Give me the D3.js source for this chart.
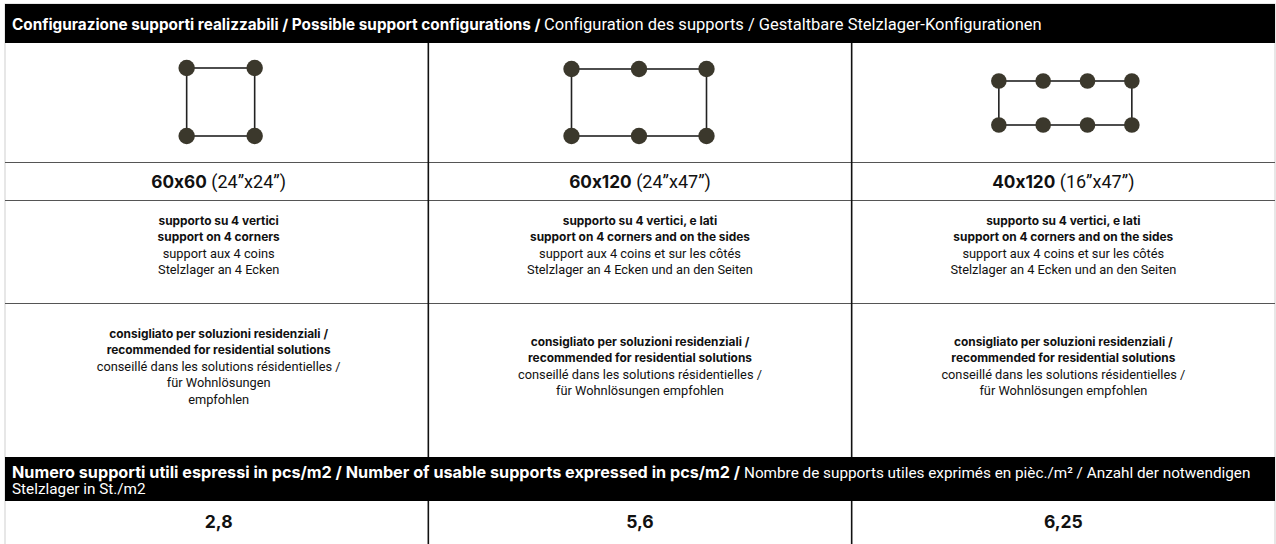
<!DOCTYPE html>
<html><head><meta charset="utf-8">
<script src="https://cdn.jsdelivr.net/npm/d3@7/dist/d3.min.js"></script>
<style>
html,body{margin:0;padding:0;background:#fff;}
svg{display:block;font-family:Roboto, "Liberation Sans", sans-serif;font-feature-settings:"calt" 0, "liga" 0;}
</style></head><body>
<svg id="c" width="1276" height="544"></svg>
<script>
// ---- data ----
const headerBold = "Configurazione supporti realizzabili / Possible support configurations / ";
const headerRegular = "Configuration des supports / Gestaltbare Stelzlager-Konfigurationen";
const sizesBold = ["60x60", "60x120", "40x120"];
const sizesRegular = [" (24\u201Dx24\u201D)", " (24\u201Dx47\u201D)", " (16\u201Dx47\u201D)"];
// grid of support points: columns x rows
const supportCols = [2, 3, 4];
const supportRows = [2, 2, 2];
const descBold = [
  ["supporto su 4 vertici", "support on 4 corners"],
  ["supporto su 4 vertici, e lati", "support on 4 corners and on the sides"],
  ["supporto su 4 vertici, e lati", "support on 4 corners and on the sides"]
];
const descRegular = [
  ["support aux 4 coins", "Stelzlager an 4 Ecken"],
  ["support aux 4 coins et sur les côtés", "Stelzlager an 4 Ecken und an den Seiten"],
  ["support aux 4 coins et sur les côtés", "Stelzlager an 4 Ecken und an den Seiten"]
];
const recBold = [
  ["consigliato per soluzioni residenziali /", "recommended for residential solutions"],
  ["consigliato per soluzioni residenziali /", "recommended for residential solutions"],
  ["consigliato per soluzioni residenziali /", "recommended for residential solutions"]
];
const recRegular = [
  ["conseillé dans les solutions résidentielles /", "für Wohnlösungen", "empfohlen"],
  ["conseillé dans les solutions résidentielles /", "für Wohnlösungen empfohlen"],
  ["conseillé dans les solutions résidentielles /", "für Wohnlösungen empfohlen"]
];
const footerBold = "Numero supporti utili espressi in pcs/m2 / Number of usable supports expressed in pcs/m2  / ";
const footerRegular1 = "Nombre de supports utiles exprimés en pièc./m² / Anzahl der notwendigen";
const footerRegular2 = "Stelzlager in St./m2";
const values = ["2,8", "5,6", "6,25"];

// ---- layout ----
const svg = d3.select("#c");
const X0 = 5, X1 = 1275;
const x = d3.scaleBand().domain(d3.range(3)).range([X0, X1]).paddingInner(0).paddingOuter(0);
const rows = {hTop:4, hBot:43, icon:162, size:200, desc:303, recBot:457, fTop:457, fBot:501, end:544};

// outer light border
svg.append("rect").attr("x",X0).attr("y",rows.hTop).attr("width",X1-X0).attr("height",rows.end-rows.hTop+2)
  .attr("fill","none").attr("stroke","#cfcfcf").attr("stroke-width",1);

// header band
svg.append("rect").attr("x",X0).attr("y",rows.hTop).attr("width",X1-X0).attr("height",rows.hBot-rows.hTop).attr("fill","#000");
const ht = svg.append("text").attr("x",12).attr("y",29.5).attr("fill","#fff").attr("font-size",16.5);
ht.append("tspan").attr("font-weight",700).attr("font-family","Inter, sans-serif").attr("font-size",15.3).text(headerBold);
ht.append("tspan").text(headerRegular);

// horizontal lines
[rows.icon, rows.size, rows.desc].forEach(y=>{
  svg.append("line").attr("x1",X0).attr("x2",X1).attr("y1",y+0.5).attr("y2",y+0.5).attr("stroke","#555").attr("stroke-width",1.2);
});
// vertical dividers
[1,2].forEach(i=>{
  const xx = x(i);
  svg.append("line").attr("x1",xx).attr("x2",xx).attr("y1",rows.hBot).attr("y2",rows.recBot).attr("stroke","#111").attr("stroke-width",1.6);
  svg.append("line").attr("x1",xx).attr("x2",xx).attr("y1",rows.fBot).attr("y2",rows.end).attr("stroke","#111").attr("stroke-width",1.6);
});

// icons
const iconW = [68, 135, 133];
const iconH = [68, 67, 44];
const iconCY = [102, 102.5, 103];
d3.range(3).forEach(i=>{
  const cx = x(i) + x.bandwidth()/2 + (i===0?4:(i===1?-1:2));
  const w = iconW[i], h = iconH[i];
  const sx = d3.scaleLinear().domain([0, supportCols[i]-1]).range([cx-w/2, cx+w/2]);
  const sy = d3.scaleLinear().domain([0, supportRows[i]-1]).range([iconCY[i]-h/2, iconCY[i]+h/2]);
  const g = svg.append("g");
  g.append("rect").attr("x",sx(0)).attr("y",sy(0)).attr("width",w).attr("height",h)
    .attr("fill","none").attr("stroke","#222").attr("stroke-width",1.6);
  const pts = [];
  d3.range(supportRows[i]).forEach(r=>d3.range(supportCols[i]).forEach(c=>pts.push([c,r])));
  g.selectAll("circle").data(pts).join("circle")
    .attr("cx",d=>sx(d[0])).attr("cy",d=>sy(d[1])).attr("r", i===2?7.8:8.2).attr("fill","#3b382c");
});

// size row
d3.range(3).forEach(i=>{
  const t = svg.append("text").attr("x",x(i)+x.bandwidth()/2 + (i===0?2:0)).attr("y",188).attr("text-anchor","middle")
    .attr("font-size",18).attr("fill","#111");
  t.append("tspan").attr("font-weight",700).attr("font-family","Inter, sans-serif").attr("font-size",17.2).text(sizesBold[i]);
  t.append("tspan").text(sizesRegular[i]);
});

// description and recommendation rows
const LH = 16.5;
function block(i, boldLines, regLines, yCenter){
  const cx = x(i)+x.bandwidth()/2 + (i===0?2:0);
  const lines = boldLines.map(s=>({s,b:true})).concat(regLines.map(s=>({s,b:false})));
  const y0 = yCenter - (lines.length-1)*LH/2 + 4.5;
  svg.append("g").selectAll("text").data(lines).join("text")
    .attr("x",cx).attr("y",(d,k)=>y0+k*LH).attr("text-anchor","middle")
    .attr("font-size",d=>d.b?11.9:12.8).attr("font-weight",d=>d.b?700:400)
    .attr("font-family",d=>d.b?"Inter, sans-serif":null)
    .attr("fill","#111").text(d=>d.s);
}
d3.range(3).forEach(i=>{
  block(i, descBold[i], descRegular[i], 245);
  block(i, recBold[i], recRegular[i], 366);
});

// footer band
svg.append("rect").attr("x",X0).attr("y",rows.fTop).attr("width",X1-X0).attr("height",rows.fBot-rows.fTop).attr("fill","#000");
const ft = svg.append("text").attr("x",12).attr("y",478).attr("fill","#fff").attr("font-size",15.3);
ft.append("tspan").attr("font-weight",700).attr("font-family","Inter, sans-serif").attr("font-size",16.2).text(footerBold);
ft.append("tspan").text(footerRegular1);
svg.append("text").attr("x",12).attr("y",494).attr("fill","#fff").attr("font-size",15.3).text(footerRegular2);

// values
svg.append("g").selectAll("text").data(values).join("text")
  .attr("x",(d,i)=>x(i)+x.bandwidth()/2 + (i===0?2:0)).attr("y",528).attr("text-anchor","middle")
  .attr("font-weight",700).attr("font-family","Inter, sans-serif").attr("font-size",17.5).attr("fill","#111").text(d=>d);
</script>
</body></html>
